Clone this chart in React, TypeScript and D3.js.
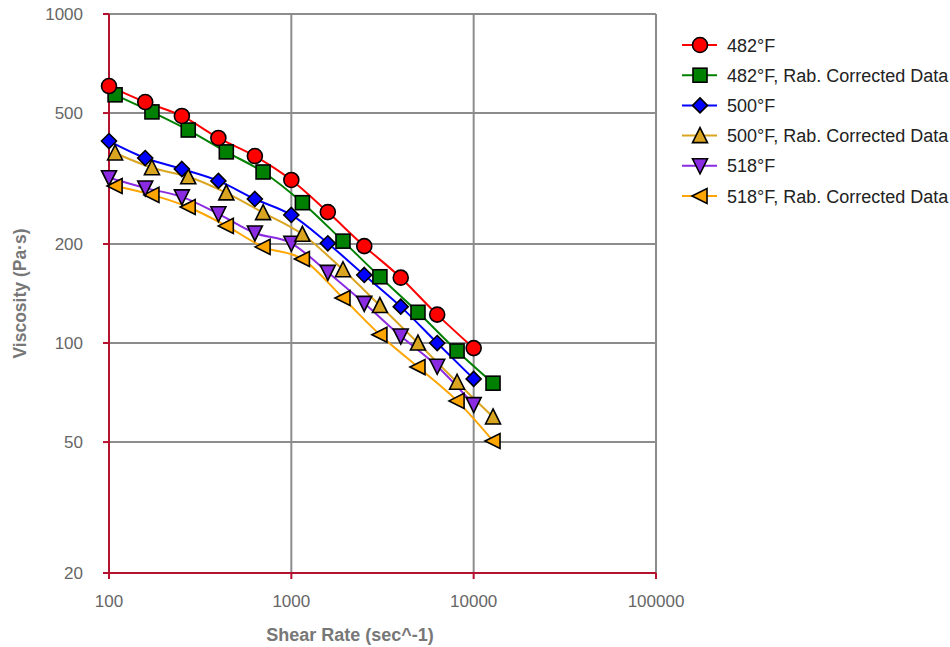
import React from "react";
import * as d3 from "d3";

const seriesNames = [
  "482°F",
  "482°F, Rab. Corrected Data",
  "500°F",
  "500°F, Rab. Corrected Data",
  "518°F",
  "518°F, Rab. Corrected Data",
];
const seriesColors = ["#ff0000", "#008000", "#0000ff", "#daa520", "#8a2be2", "#ffa500"];
const seriesSymbols = ["circle", "square", "diamond", "triUp", "triDown", "triLeft"];

const rawX = [100, 158, 251, 398, 631, 1000, 1585, 2512, 3981, 6310, 10000];
const corrX = [108, 172, 272, 440, 700, 1150, 1920, 3060, 4950, 8110, 12770];

const visc482 = [604, 540, 490, 420, 370, 313, 250, 197, 158, 122, 96.5];
const visc482Rab = [568, 504, 444, 381, 331, 267, 204, 159, 124, 94.6, 75.5];
const visc500 = [411, 365, 338, 311, 274, 245, 201, 161, 129, 100, 77.8];
const visc500Rab = [378, 341, 320, 286, 249, 214, 167, 130, 100, 76, 59.6];
const visc518 = [318, 296, 278, 247, 216, 201, 164, 132, 105, 85, 65];
const visc518Rab = [300, 282, 259, 227, 196, 180, 137, 106, 84.5, 66.7, 50.4];

const seriesX = [rawX, corrX, rawX, corrX, rawX, corrX];
const seriesY = [visc482, visc482Rab, visc500, visc500Rab, visc518, visc518Rab];

const xTicks = [100, 1000, 10000, 100000];
const yTicks = [20, 50, 100, 200, 500, 1000];

const W = 950, H = 647;
const L = 109, R = 656, T = 14, B = 573;

function marker(sym: string, x: number, y: number, color: string, key: string) {
  const sw = 1.6;
  const st = "#000";
  if (sym === "circle") return <circle key={key} cx={x} cy={y} r={7.5} fill={color} stroke={st} strokeWidth={sw} />;
  if (sym === "square") return <rect key={key} x={x - 7} y={y - 7} width={14} height={14} fill={color} stroke={st} strokeWidth={sw} />;
  let pts: number[][] = [];
  if (sym === "diamond") pts = [[0, -7.5], [7.5, 0], [0, 7.5], [-7.5, 0]];
  if (sym === "triUp") pts = [[0, -8], [7.5, 7], [-7.5, 7]];
  if (sym === "triDown") pts = [[0, 8], [7.5, -7], [-7.5, -7]];
  if (sym === "triLeft") pts = [[-8, 0], [7, -7.5], [7, 7.5]];
  return (
    <polygon key={key} points={pts.map((p) => `${x + p[0]},${y + p[1]}`).join(" ")} fill={color} stroke={st} strokeWidth={sw} strokeLinejoin="miter" />
  );
}

export default function App() {
  const x = d3.scaleLog().domain([100, 100000]).range([L, R]);
  const y = d3.scaleLog().domain([20, 1000]).range([B, T]);
  const line = d3.line<[number, number]>().x((d) => d[0]).y((d) => d[1]).curve(d3.curveMonotoneX);
  const axisColor = "#b5122f";
  const gridColor = "#8c8c8c";
  const font = "Liberation Sans, Arial, sans-serif";
  const order = [5, 4, 3, 2, 1, 0];

  return (
    <svg width={W} height={H} style={{ position: "absolute", left: 0, top: 0 }} fontFamily={font}>
      <rect width={W} height={H} fill="#fff" />
      {yTicks.map((t) => (
        <line key={"gy" + t} x1={L} x2={R} y1={y(t)} y2={y(t)} stroke={gridColor} strokeWidth={2} />
      ))}
      {xTicks.map((t) => (
        <line key={"gx" + t} x1={x(t)} x2={x(t)} y1={T} y2={B} stroke={gridColor} strokeWidth={2} />
      ))}
      <line x1={L} x2={L} y1={T} y2={B + 6} stroke={axisColor} strokeWidth={2} />
      <line x1={L - 6} x2={R} y1={B} y2={B} stroke={axisColor} strokeWidth={2} />
      {yTicks.map((t) => (
        <line key={"ty" + t} x1={L - 6} x2={L} y1={y(t)} y2={y(t)} stroke={axisColor} strokeWidth={2} />
      ))}
      {xTicks.map((t) => (
        <line key={"tx" + t} x1={x(t)} x2={x(t)} y1={B} y2={B + 6} stroke={axisColor} strokeWidth={2} />
      ))}
      {yTicks.map((t) => (
        <text key={"ly" + t} x={83} y={y(t) + 6} textAnchor="end" fontSize={17} fill="#666">{t}</text>
      ))}
      {xTicks.map((t) => (
        <text key={"lx" + t} x={x(t)} y={607} textAnchor="middle" fontSize={17} fill="#666">{t}</text>
      ))}
      <text x={350} y={641} textAnchor="middle" fontSize={18} fontWeight="bold" fill="#777">Shear Rate (sec^-1)</text>
      <text transform={`translate(26,${(T + B) / 2}) rotate(-90)`} textAnchor="middle" fontSize={17.5} fontWeight="bold" fill="#777">Viscosity (Pa·s)</text>

      {order.map((i) => {
        const pts: [number, number][] = seriesX[i].map((xv, j) => [x(xv), y(seriesY[i][j])]);
        return <path key={"l" + i} d={line(pts) || ""} fill="none" stroke={seriesColors[i]} strokeWidth={2} />;
      })}
      {order.map((i) => (
        <g key={"m" + i}>
          {seriesX[i].map((xv, j) => marker(seriesSymbols[i], x(xv), y(seriesY[i][j]), seriesColors[i], `${i}-${j}`))}
        </g>
      ))}

      {seriesNames.map((n, i) => {
        const cy = 45 + i * 30.2;
        return (
          <g key={"lg" + i}>
            <line x1={682} x2={717} y1={cy} y2={cy} stroke={seriesColors[i]} strokeWidth={2} />
            {marker(seriesSymbols[i], 700, cy, seriesColors[i], "lgm" + i)}
            <text x={727} y={cy + 6.5} fontSize={18} fill="#222">{n}</text>
          </g>
        );
      })}
    </svg>
  );
}
